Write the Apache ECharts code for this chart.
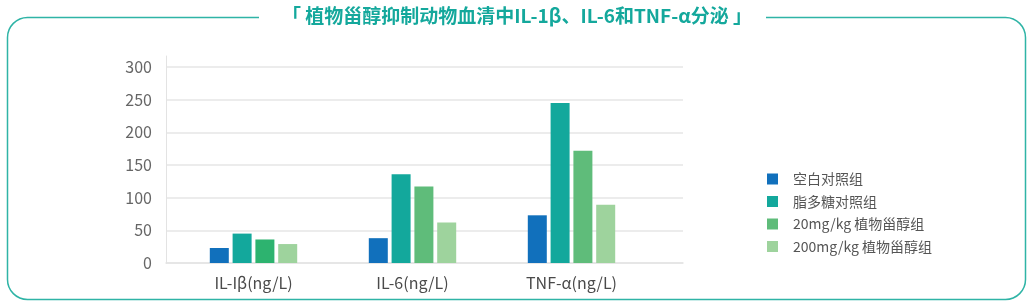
<!DOCTYPE html>
<html>
<head>
<meta charset="utf-8">
<script src="https://cdn.jsdelivr.net/npm/echarts@6/dist/echarts.min.js"></script>
<style>
html,body{margin:0;padding:0;background:#fff;}
#chart{width:1034px;height:308px;}
</style>
</head>
<body>
<div id="chart"></div>
<script>
const title = '「 植物甾醇抑制动物血清中IL-1β、IL-6和TNF-α分泌 」';
const categories = ['IL-Iβ(ng/L)', 'IL-6(ng/L)', 'TNF-α(ng/L)'];
const seriesNames = ['空白对照组', '脂多糖对照组', '20mg/kg 植物甾醇组', '200mg/kg 植物甾醇组'];
const blankControl = [23, 38, 73];
const lpsControl = [45, 136, 245];
const low20 = [36, 117, 172];
const high200 = [29, 62, 89];
const yTicks = [0, 50, 100, 150, 200, 250, 300];

const colors = ['#1170bc', '#13a89c', '#5fbc7a', '#9ed39d'];
const font = '"Noto Sans CJK SC", "Noto Sans", sans-serif';
const values = [blankControl, lpsControl, low20, high200];

const chart = echarts.init(document.getElementById('chart'), null, {renderer: 'canvas'});
const yMax = yTicks[yTicks.length - 1];
const yStep = yTicks[1] - yTicks[0];

const series = seriesNames.map((name, i) => ({
  name: name,
  type: 'bar',
  xAxisIndex: 2,
  yAxisIndex: 2,
  barWidth: 19,
  barGap: '20%',
  itemStyle: {color: colors[i]},
  data: values[i].map((v, j) => (i === 2 && j === 0) ? {value: v, itemStyle: {color: '#2db36f'}} : v)
}));

chart.setOption({
  animation: false,
  textStyle: {fontFamily: font},
  grid: [
    {left: 166, right: 351, top: 56, bottom: 45},
    {left: 166, right: 351, top: 67, bottom: 45},
    {left: 174, right: 383, top: 67, bottom: 45}
  ],
  xAxis: [
    {gridIndex: 0, type: 'category', data: categories, show: false},
    {gridIndex: 1, type: 'category', data: categories,
     axisLine: {show: true, lineStyle: {color: '#e3e3e3', width: 1.5}},
     axisTick: {show: false}, axisLabel: {show: false}},
    {gridIndex: 2, type: 'category', data: categories,
     axisLine: {show: false}, axisTick: {show: false},
     axisLabel: {color: '#4a4a4a', fontSize: 16, margin: 12, fontFamily: font}}
  ],
  yAxis: [
    {gridIndex: 0, type: 'value', min: 0, max: yMax + 16,
     axisLine: {show: true, lineStyle: {color: '#e3e3e3', width: 1}},
     axisTick: {show: false}, axisLabel: {show: false}, splitLine: {show: false}},
    {gridIndex: 1, type: 'value', min: 0, max: yMax, interval: yStep,
     axisLine: {show: false}, axisTick: {show: false},
     axisLabel: {color: '#666', fontSize: 16, margin: 14, fontFamily: font},
     splitLine: {show: true, lineStyle: {color: '#e6e6e6', width: 1.5}}},
    {gridIndex: 2, type: 'value', min: 0, max: yMax, show: false}
  ],
  legend: {
    orient: 'vertical',
    left: 762,
    top: 167,
    itemWidth: 11,
    itemHeight: 11,
    itemGap: 8.5,
    icon: 'rect',
    data: seriesNames,
    textStyle: {color: '#555', fontSize: 14, fontFamily: font, padding: [0, 0, 0, 10]}
  },
  graphic: [
    {type: 'rect', z: 1, shape: {x: 7.5, y: 17.5, width: 1018, height: 282, r: 20},
     style: {fill: 'none', stroke: '#2fb4a6', lineWidth: 1.5}},
    {type: 'rect', z: 2, shape: {x: 259, y: 5, width: 507, height: 26},
     style: {fill: '#fff'}},
    {type: 'text', z: 3, left: 'center', top: 6,
     style: {text: title, fill: '#14a89c', font: 'bold 19px ' + font}}
  ],
  series: series
});
</script>
</body>
</html>
